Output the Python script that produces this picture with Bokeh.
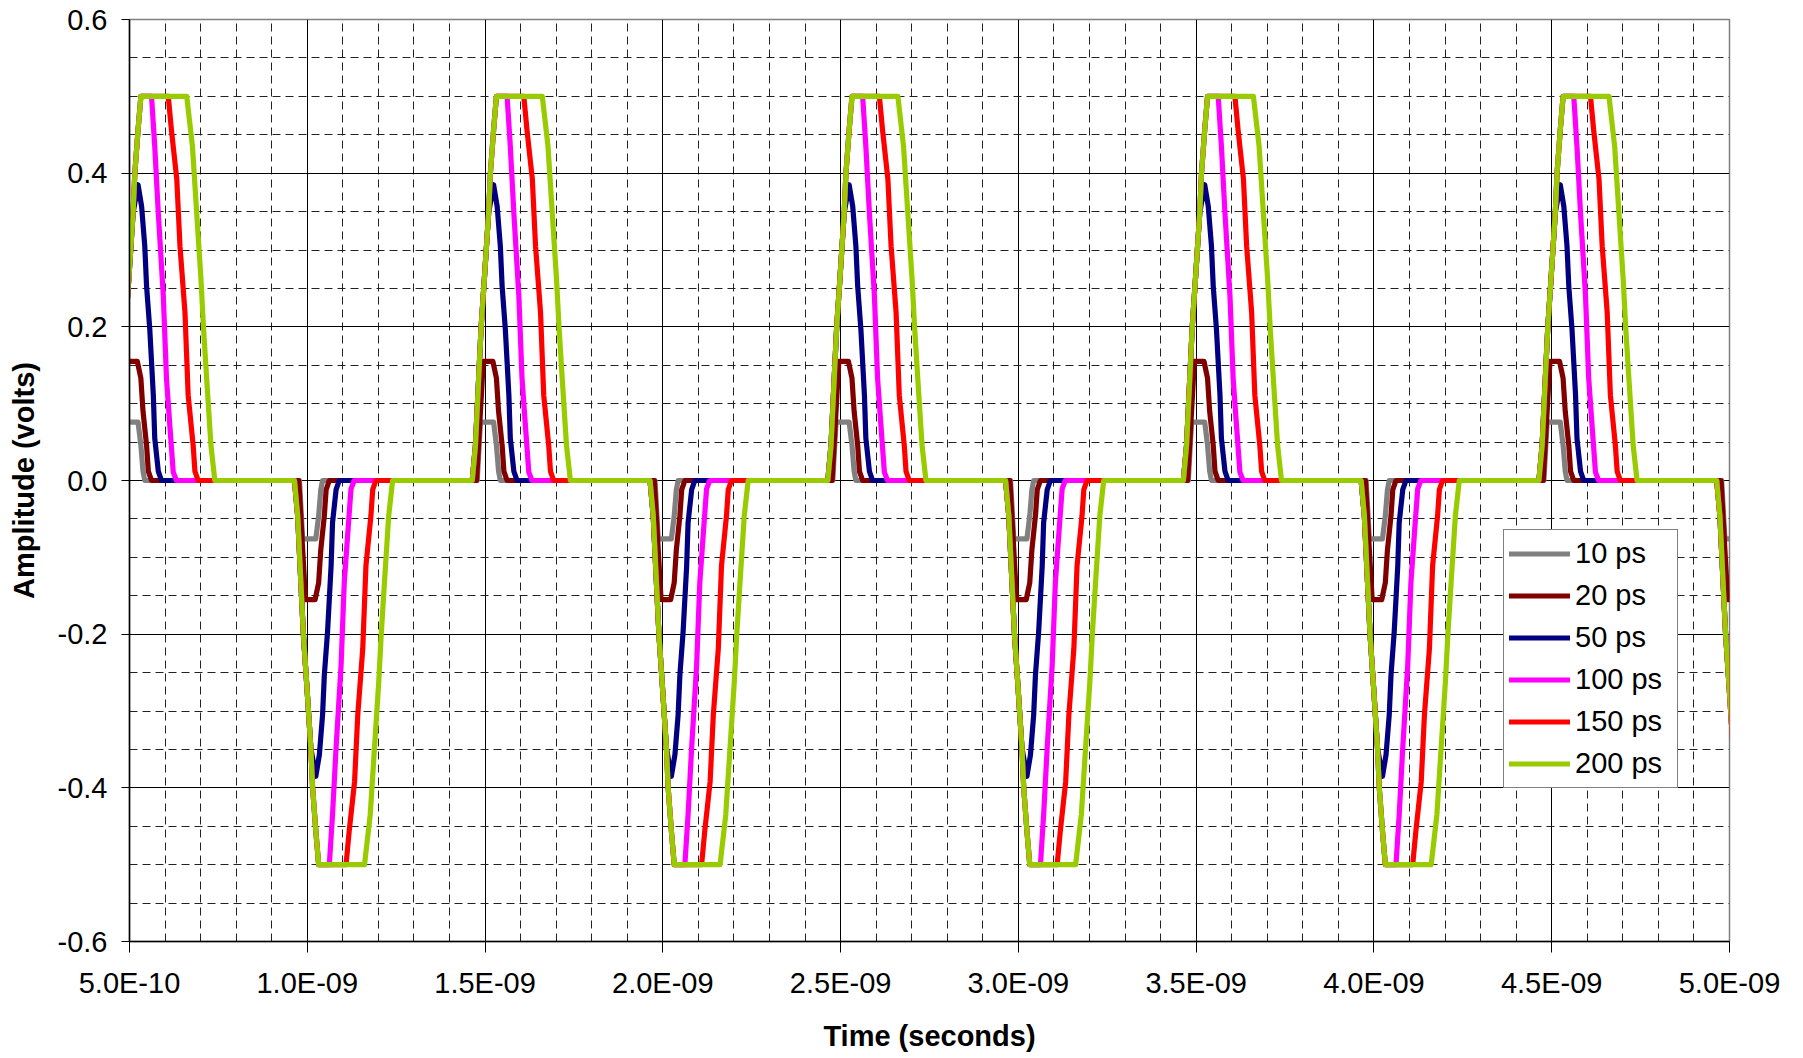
from bokeh.plotting import figure
from bokeh.models import Range1d, FixedTicker, Legend, LegendItem, PrintfTickFormatter
from bokeh.embed import file_html
from bokeh.resources import INLINE

# ---------------- data ----------------
series_names = ["10 ps", "20 ps", "50 ps", "100 ps", "150 ps", "200 ps"]
series_colors = ["#808080", "#800000", "#000080", "#FF00FF", "#FF0000", "#99CC00"]

# one pulse per series: time relative to the edge (ps) and amplitude (V) for a positive pulse
pulse_t_10 = [-22, -13, 24, 32, 38, 43]
pulse_v_10 = [0.0, 0.076, 0.076, 0.046, 0.012, 0.0]

pulse_t_20 = [-24, -5, 22, 32, 38, 48, 53, 62]
pulse_v_20 = [0.0, 0.155, 0.155, 0.133, 0.090, 0.046, 0.012, 0.0]

pulse_t_50 = [-36, -27, -18, -11, -2, 10, 24, 34, 43, 48, 57, 67, 71, 81, 90]
pulse_v_50 = [0.0, 0.046, 0.133, 0.200, 0.262, 0.348, 0.385, 0.357, 0.305, 0.253, 0.197, 0.111, 0.055, 0.012, 0.0]

pulse_t_100 = [-36, -27, -18, -11, -2, 10, 15, 24, 32, 62, 71, 81, 95, 104, 114, 123, 132]
pulse_v_100 = [0.0, 0.046, 0.133, 0.200, 0.262, 0.348, 0.400, 0.456, 0.5, 0.5, 0.435, 0.348, 0.241, 0.133, 0.068, 0.011, 0.0]

pulse_t_150 = [-36, -27, -18, -11, -2, 10, 15, 24, 32, 109, 118, 133, 142, 156, 165, 179, 184, 193]
pulse_v_150 = [0.0, 0.046, 0.133, 0.200, 0.262, 0.348, 0.400, 0.456, 0.5, 0.5, 0.456, 0.392, 0.305, 0.219, 0.111, 0.046, 0.012, 0.0]

pulse_t_200 = [-36, -27, -18, -11, -2, 10, 15, 24, 32, 161, 177, 189, 201, 208, 217, 229, 240]
pulse_v_200 = [0.0, 0.046, 0.133, 0.200, 0.262, 0.348, 0.400, 0.456, 0.5, 0.5, 0.435, 0.348, 0.262, 0.200, 0.133, 0.046, 0.0]

pulse_times = [pulse_t_10, pulse_t_20, pulse_t_50, pulse_t_100, pulse_t_150, pulse_t_200]
pulse_values = [pulse_v_10, pulse_v_20, pulse_v_50, pulse_v_100, pulse_v_150, pulse_v_200]

# edges of the driving square wave (s) and pulse polarity
edge_times = [0.5e-9, 1.0e-9, 1.5e-9, 2.0e-9, 2.5e-9, 3.0e-9, 3.5e-9, 4.0e-9, 4.5e-9, 5.0e-9]
edge_signs = [1, -1, 1, -1, 1, -1, 1, -1, 1, -1]

x_ticks = [0.5e-9, 1.0e-9, 1.5e-9, 2.0e-9, 2.5e-9, 3.0e-9, 3.5e-9, 4.0e-9, 4.5e-9, 5.0e-9]
x_tick_labels = ["5.0E-10", "1.0E-09", "1.5E-09", "2.0E-09", "2.5E-09",
                 "3.0E-09", "3.5E-09", "4.0E-09", "4.5E-09", "5.0E-09"]
y_ticks = [-0.6, -0.4, -0.2, 0.0, 0.2, 0.4, 0.6]

x_title = "Time (seconds)"
y_title = "Amplitude (volts)"

# ---------------- figure ----------------
FONT = "Liberation Sans"

p = figure(width=1798, height=1054, output_backend="svg", toolbar_location=None,
           x_range=Range1d(0.5e-9, 5.0e-9), y_range=Range1d(-0.6, 0.6),
           min_border_left=129, min_border_right=69, min_border_top=19, min_border_bottom=108)
p.background_fill_color = "white"
p.border_fill_color = "white"
p.outline_line_color = "#808080"
p.outline_line_width = 1.5

x_minor = [(5 + i) * 1e-10 for i in range(46) if i % 5 != 0]
y_minor = [k * 0.05 for k in range(-12, 13) if k % 4 != 0]

p.xaxis.ticker = FixedTicker(ticks=x_ticks)
p.yaxis.ticker = FixedTicker(ticks=y_ticks)
p.xgrid.ticker = FixedTicker(ticks=x_ticks, minor_ticks=x_minor)
p.ygrid.ticker = FixedTicker(ticks=y_ticks, minor_ticks=y_minor)

for g in (p.xgrid, p.ygrid):
    g.grid_line_color = "black"
    g.grid_line_width = 1
    g.grid_line_alpha = 1.0
    g.minor_grid_line_color = "#222222"
    g.minor_grid_line_width = 1
    g.minor_grid_line_dash = "8 5"

p.xaxis.major_label_overrides = dict(zip(x_ticks, x_tick_labels))
p.yaxis.formatter = PrintfTickFormatter(format="%.1f")

for ax in (p.xaxis, p.yaxis):
    ax.axis_line_color = "black"
    ax.axis_line_width = 1.5
    ax.major_tick_line_color = "black"
    ax.major_tick_line_width = 1
    ax.major_tick_in = 0
    ax.minor_tick_line_color = None
    ax.major_label_text_font = FONT
    ax.major_label_text_font_size = "29px"
    ax.major_label_text_color = "black"
    ax.axis_label_text_font = FONT
    ax.axis_label_text_font_size = "29px"
    ax.axis_label_text_font_style = "bold"
    ax.axis_label_text_color = "black"

p.xaxis.major_tick_out = 11
p.yaxis.major_tick_out = 8
p.xaxis.major_label_standoff = 14
p.yaxis.major_label_standoff = 14
p.xaxis.axis_label = x_title
p.yaxis.axis_label = y_title
p.xaxis.axis_label_standoff = 18
p.yaxis.axis_label_standoff = 15

items = []
for name, color, pt, pv in zip(series_names, series_colors, pulse_times, pulse_values):
    xs, ys = [], []
    for e, s in zip(edge_times, edge_signs):
        for t, v in zip(pt, pv):
            xs.append(e + t * 1e-12)
            ys.append(s * v)
    r = p.line(xs, ys, line_color=color, line_width=5.2, line_join="round", line_cap="round")
    items.append(LegendItem(label=name, renderers=[r]))

legend = Legend(items=items, location=(1374, 153))
legend.label_text_font = FONT
legend.label_text_font_size = "29px"
legend.label_text_color = "black"
legend.glyph_width = 61
legend.glyph_height = 37
legend.spacing = 5
legend.padding = 5
legend.margin = 0
legend.label_standoff = 5
legend.label_width = 97
legend.border_line_color = "black"
legend.border_line_width = 1
legend.background_fill_color = "white"
legend.background_fill_alpha = 1.0
p.add_layout(legend, "center")

open("out.html", "w").write(file_html(p, INLINE))
